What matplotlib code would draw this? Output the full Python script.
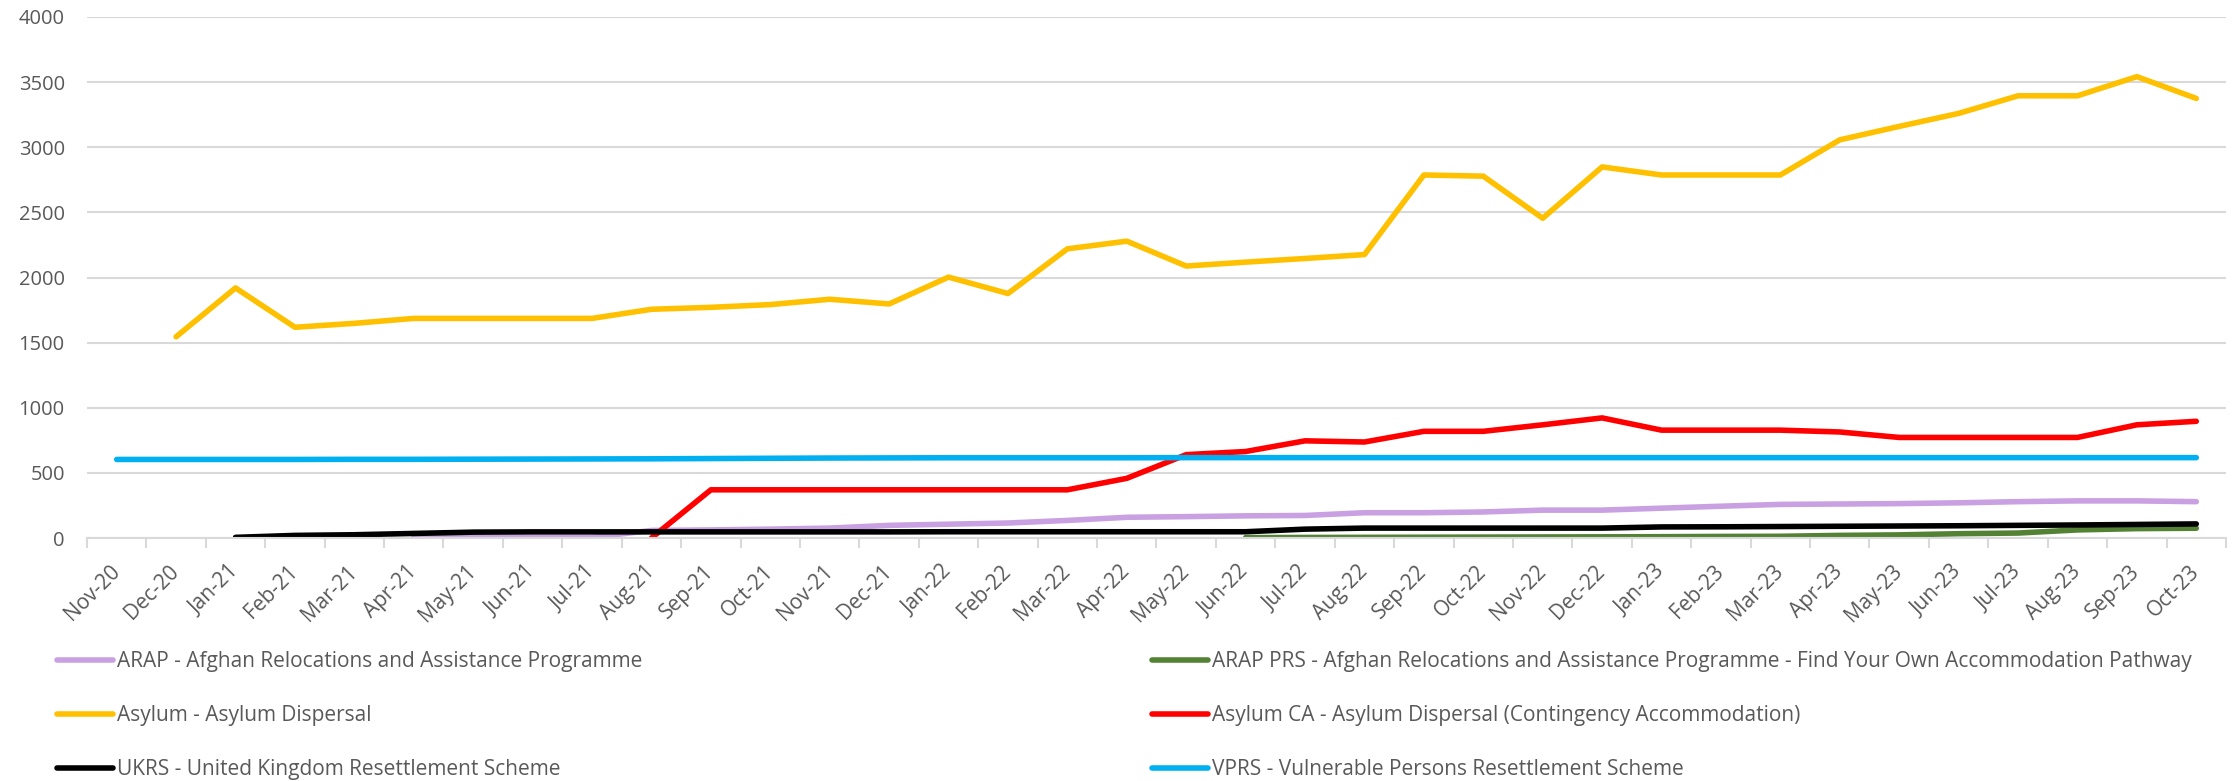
import numpy as np
import matplotlib
matplotlib.use("Agg")
import matplotlib.pyplot as plt

nan = np.nan

#### DATA ######
months = ["Nov-20", "Dec-20",
          "Jan-21", "Feb-21", "Mar-21", "Apr-21", "May-21", "Jun-21",
          "Jul-21", "Aug-21", "Sep-21", "Oct-21", "Nov-21", "Dec-21",
          "Jan-22", "Feb-22", "Mar-22", "Apr-22", "May-22", "Jun-22",
          "Jul-22", "Aug-22", "Sep-22", "Oct-22", "Nov-22", "Dec-22",
          "Jan-23", "Feb-23", "Mar-23", "Apr-23", "May-23", "Jun-23",
          "Jul-23", "Aug-23", "Sep-23", "Oct-23"]

arap = [nan] * 5 + [5, 5, 5, 5, 58, 62, 68, 76, 97,
                    106, 115, 135, 159, 164, 170, 173, 194, 194, 200, 214, 214,
                    229, 244, 258, 261, 264, 270, 279, 285, 285, 279]
arap_prs = [nan] * 19 + [3, 4, 5, 6, 7, 8, 9,
                         10, 12, 13, 20, 24, 33, 38, 62, 72, 75]
asylum = [nan, 1545,
          1920, 1618, 1648, 1686, 1686, 1686, 1686, 1756, 1771, 1792, 1833, 1797,
          2003, 1877, 2220, 2279, 2088, 2118, 2146, 2176, 2787, 2778, 2455, 2849,
          2787, 2787, 2787, 3057, 3160, 3260, 3395, 3395, 3542, 3375]
asylum_ca = [nan] * 9 + [0, 370, 370, 370, 370,
                         370, 370, 370, 458, 640, 664, 746, 737, 819, 819, 869, 922,
                         828, 828, 828, 814, 772, 772, 772, 772, 869, 896]
ukrs = [nan] * 2 + [5, 20, 25, 35, 45, 47, 47, 47, 47, 47, 47, 47,
                    48, 48, 48, 48, 48, 48, 68, 76, 76, 76, 76, 76,
                    85, 86, 88, 90, 92, 94, 97, 100, 104, 108]
vprs = [603, 603,
        603, 603, 604, 604, 605, 606, 607, 608, 610, 612, 614, 615,
        616, 616, 616, 616, 617, 617, 617, 617, 617, 617, 617, 617,
        617, 617, 617, 617, 617, 617, 617, 617, 617, 617]

labels = ["ARAP - Afghan Relocations and Assistance Programme",
          "ARAP PRS - Afghan Relocations and Assistance Programme - Find Your Own Accommodation Pathway",
          "Asylum - Asylum Dispersal",
          "Asylum CA - Asylum Dispersal (Contingency Accommodation)",
          "UKRS - United Kingdom Resettlement Scheme",
          "VPRS - Vulnerable Persons Resettlement Scheme"]
colours = ["#C9A0E2", "#548235", "#FFC000", "#FF0000", "#000000", "#00B0F0"]
series = [arap, arap_prs, asylum, asylum_ca, ukrs, vprs]
################

txt = "#595959"
grid = "#D9D9D9"
plt.rcParams["font.family"] = ["Open Sans", "DejaVu Sans"]
plt.rcParams["font.size"] = 14.5

fig = plt.figure(figsize=(22.36, 7.81), dpi=100)
ax = fig.add_axes([87 / 2236, 1 - 538 / 781, 2139 / 2236, 521 / 781])

x = np.arange(len(months))
lines = []
for ys, c, lab in zip(series, colours, labels):
    ln, = ax.plot(x, ys, color=c, lw=4, label=lab,
                  solid_capstyle="round", solid_joinstyle="round")
    lines.append(ln)

ax.set_xlim(-0.5, len(months) - 0.5)
ax.set_ylim(0, 4000)
ax.set_yticks(np.arange(0, 4001, 500))
ax.yaxis.grid(True, color=grid, lw=1.5)
ax.set_axisbelow(True)

for s in ["top", "right", "left"]:
    ax.spines[s].set_visible(False)
ax.spines["bottom"].set_color(grid)
ax.spines["bottom"].set_linewidth(1.5)

ax.tick_params(axis="y", length=0, pad=16, colors=txt, labelsize=14.5)
ax.set_xticks(x)
ax.set_xticklabels(months, rotation=45, ha="right", va="center",
                   rotation_mode="anchor", color=txt, fontsize=15)
ax.tick_params(axis="x", which="major", length=0, pad=22)
ax.set_xticks(np.arange(-0.5, len(months)), minor=True)
ax.tick_params(axis="x", which="minor", length=7, width=1.5, color=grid)

# legend: two columns, placed like the original
left = [lines[0], lines[2], lines[4]]
right = [lines[1], lines[3], lines[5]]
leg_kw = dict(loc="upper left", frameon=False, borderpad=0, borderaxespad=0,
              handlelength=2.7, handletextpad=0.2, labelspacing=1.58,
              fontsize=15, labelcolor=txt)
leg1 = fig.legend(handles=left, bbox_to_anchor=(57 / 2236, 0.166), **leg_kw)
leg2 = fig.legend(handles=right, bbox_to_anchor=(1152 / 2236, 0.166), **leg_kw)

fig.savefig("out.png", dpi=100)
